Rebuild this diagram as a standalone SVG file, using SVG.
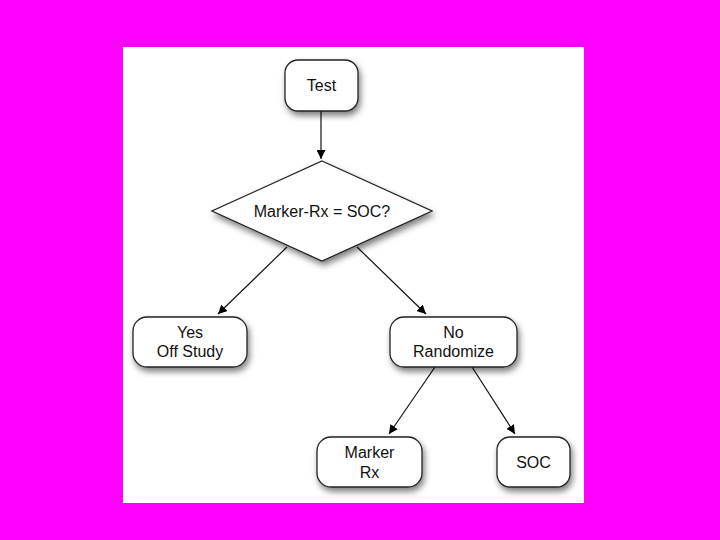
<svg xmlns="http://www.w3.org/2000/svg" width="720" height="540" viewBox="0 0 720 540">
<defs>
<filter id="sh" x="-20%" y="-20%" width="150%" height="160%">
<feDropShadow dx="2" dy="4" stdDeviation="3" flood-color="#000" flood-opacity="0.5"/>
</filter>
<marker id="ah" viewBox="0 0 10 10" refX="10" refY="5" markerWidth="9" markerHeight="9" markerUnits="userSpaceOnUse" orient="auto">
<path d="M0,0 L10,5 L0,10 z" fill="#000"/>
</marker>
</defs>
<style>
.n{fill:#fff;stroke:#222;stroke-width:1.3;filter:url(#sh)}
.t{font-family:"Liberation Sans",Arial,sans-serif;font-size:16px;fill:#111;text-anchor:middle}
.c{stroke:#111;stroke-width:1.2;fill:none;marker-end:url(#ah)}
</style>
<rect x="0" y="0" width="720" height="540" fill="#ff00ff"/>
<rect x="123" y="47" width="461" height="456" fill="#fff"/>
<g id="connectors">
<line class="c" x1="321" y1="111" x2="321" y2="159"/>
<line class="c" x1="287" y1="247" x2="218" y2="314"/>
<line class="c" x1="357" y1="247" x2="426" y2="314"/>
<line class="c" x1="435" y1="367" x2="389" y2="434"/>
<line class="c" x1="472" y1="367" x2="515" y2="434"/>
</g>
<g id="test">
<rect class="n" x="285" y="60" width="73" height="51" rx="13"/>
<text class="t" x="321.5" y="91">Test</text>
</g>
<g id="decision">
<polygon class="n" points="322,161 432,211 322,261 212,211"/>
<text class="t" x="322" y="217">Marker-Rx = SOC?</text>
</g>
<g id="yes">
<rect class="n" x="133" y="317" width="114" height="50" rx="14"/>
<text class="t" x="190" y="338">Yes</text>
<text class="t" x="190" y="357">Off Study</text>
</g>
<g id="no">
<rect class="n" x="390" y="317" width="127" height="50" rx="14"/>
<text class="t" x="453.5" y="338">No</text>
<text class="t" x="453.5" y="357">Randomize</text>
</g>
<g id="marker">
<rect class="n" x="317" y="437" width="105" height="50" rx="14"/>
<text class="t" x="369.5" y="458">Marker</text>
<text class="t" x="369.5" y="478">Rx</text>
</g>
<g id="soc">
<rect class="n" x="497" y="437" width="73" height="50" rx="13"/>
<text class="t" x="533.5" y="468">SOC</text>
</g>
</svg>
